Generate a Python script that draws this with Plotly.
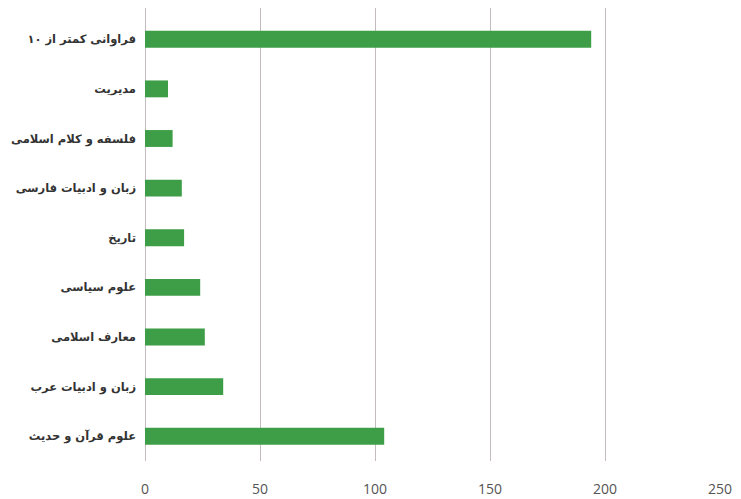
import plotly.graph_objects as go

categories = [
    "علوم قرآن و حدیث",
    "زبان و ادبیات عرب",
    "معارف اسلامی",
    "علوم سیاسی",
    "تاریخ",
    "زبان و ادبیات فارسی",
    "فلسفه و کلام اسلامی",
    "مدیریت",
    "فراوانی کمتر از ۱۰",
]
values = [104, 34, 26, 24, 17, 16, 12, 10, 194]
tick_vals = [0, 50, 100, 150, 200, 250]

fig = go.Figure(go.Bar(
    x=values, y=categories, orientation="h",
    marker=dict(color="#3d9e47", line=dict(width=0)),
    width=0.34,
))
fig.update_layout(
    width=733, height=491,
    margin=dict(l=137, r=21, t=0, b=38),
    paper_bgcolor="white", plot_bgcolor="white",
    showlegend=False,
    font=dict(family="DejaVu Sans"),
)
fig.update_xaxes(
    range=[0, 250], tickvals=tick_vals,
    showgrid=True, gridcolor="#c4bcbc", gridwidth=1.2,
    zeroline=True, zerolinecolor="#c4bcbc", zerolinewidth=1.2,
    tickfont=dict(size=14, color="#555555", family="Open Sans"),
    ticks="", ticklabelstandoff=18,
    showline=False, automargin=False,
)
fig.update_yaxes(
    categoryorder="array", categoryarray=categories,
    range=[-0.5, 8.63],
    tickfont=dict(size=11.5, color="#333333", family="DejaVu Sans", weight="bold"),
    ticks="", ticklabelstandoff=8,
    showgrid=False, showline=False, automargin=False,
)
fig.write_html("out.html")
